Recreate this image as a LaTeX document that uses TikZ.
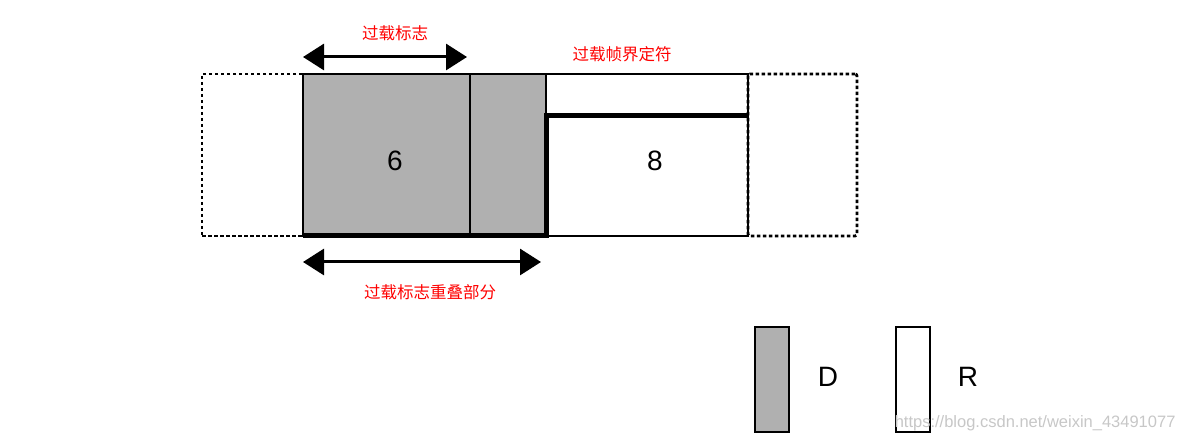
\documentclass[tikz,border=0pt]{standalone}
\usepackage{fontspec}
\setmainfont{Liberation Sans}
\newfontfamily\cjk{Noto Sans CJK SC}
\usetikzlibrary{arrows.meta}
\definecolor{dgray}{RGB}{176,176,176}
\definecolor{lblred}{RGB}{255,0,0}
\tikzset{
  box/.style={draw=black, line width=2pt, rectangle, inner sep=0pt, outer sep=0pt},
  dbox/.style={draw=black, line width=2.8pt, dash pattern=on 3.5pt off 2.5pt, rectangle, inner sep=0pt, outer sep=0pt},
  bigtxt/.style={font=\fontsize{28}{30}\selectfont},
  cnlbl/.style={text=lblred, font=\cjk\fontsize{16.5}{18}\selectfont},
  arr/.style={line width=3pt, {Triangle[length=21pt,width=26pt]}-{Triangle[length=21pt,width=26pt]}},
}
\begin{document}
\begin{tikzpicture}[x=1pt,y=-1pt]
\useasboundingbox (0,0) rectangle (1187,443);
% left dashed box
\node[dbox, minimum width=101pt, minimum height=162pt] (ld) at (252.5,155) {};
% gray boxes
\node[box, fill=dgray, minimum width=167pt, minimum height=162pt] (g1) at (386.5,155) {};
\node[box, fill=dgray, minimum width=76pt, minimum height=162pt] (g2) at (508,155) {};
% white boxes
\node[box, fill=white, minimum width=202pt, minimum height=42pt] (ws) at (647,95) {};
\node[box, fill=white, minimum width=202pt, minimum height=120pt] (w8) at (647,176) {};
% right dashed box
\node[dbox, rounded corners=2pt, minimum width=109pt, minimum height=162pt] (rd) at (802.5,155) {};
% thick outline
\draw[line width=5pt] (g1.south west) -- (w8.south west) -- (w8.north west) -- (w8.north east);
% numbers
\node[bigtxt] (n6) at (395,161) {6};
\node[bigtxt] (n8) at (655,161) {8};
% arrows
\coordinate (ta1) at (303,57);
\coordinate (ta2) at (467,57);
\draw[arr] (ta1) -- (ta2);
\coordinate (ba1) at (303,262);
\coordinate (ba2) at (541,262);
\draw[arr] (ba1) -- (ba2);
% labels
\node[cnlbl] (l1) at (395,33) {过载标志};
\node[cnlbl] (l2) at (622,54) {过载帧界定符};
\node[cnlbl] (l3) at (430,292) {过载标志重叠部分};
% legend
\node[box, fill=dgray, minimum width=34pt, minimum height=105pt] (legD) at (772,379.5) {};
\node[bigtxt] (tD) at (828,377) {D};
\node[box, fill=white, minimum width=34pt, minimum height=105pt] (legR) at (913,379.5) {};
\node[bigtxt] (tR) at (968,377) {R};
% watermark
\node[text=black!22, font=\fontsize{16.5}{18}\selectfont, anchor=east] (wm) at (1179,423) {https://blog.csdn.net/weixin\_43491077};
\end{tikzpicture}
\end{document}
